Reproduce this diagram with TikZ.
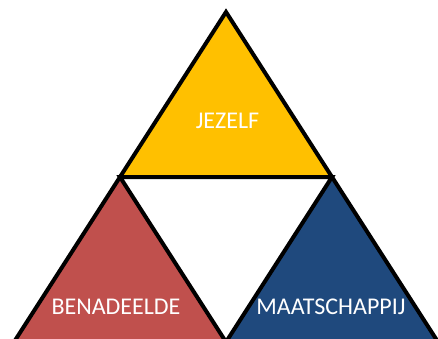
\documentclass[tikz,border=0pt]{standalone}
\usepackage{fontspec}
\setmainfont{Carlito}
\definecolor{tyellow}{HTML}{FFC000}
\definecolor{tred}{HTML}{C0504D}
\definecolor{tblue}{HTML}{1F497D}
\tikzset{
  edge/.style={draw=black,line width=4,line join=miter},
  lbl/.style={text=white,font=\fontsize{24}{28}\selectfont,inner sep=0}
}
\begin{document}
\begin{tikzpicture}[x=1pt,y=-1pt]
\useasboundingbox (0,0) rectangle (438,338);
\coordinate (T) at (226,12);
\coordinate (L) at (14,342);
\coordinate (R) at (438,342);
\coordinate (ML) at (120,177);
\coordinate (MR) at (332,177);
\coordinate (MB) at (226,342);
\fill[tyellow] (T) -- (ML) -- (MR) -- cycle;
\fill[tred] (ML) -- (L) -- (MB) -- cycle;
\fill[tblue] (MR) -- (MB) -- (R) -- cycle;
\path[edge] (T) -- (L) -- (R) -- cycle;
\path[edge] (ML) -- (MR) -- (MB) -- cycle;
\node[lbl] (j) at (227.5,121) {JEZELF};
\node[lbl] (b) at (116,307) {BENADEELDE};
\node[lbl] (m) at (331,307) {MAATSCHAPPIJ};
\end{tikzpicture}
\end{document}
